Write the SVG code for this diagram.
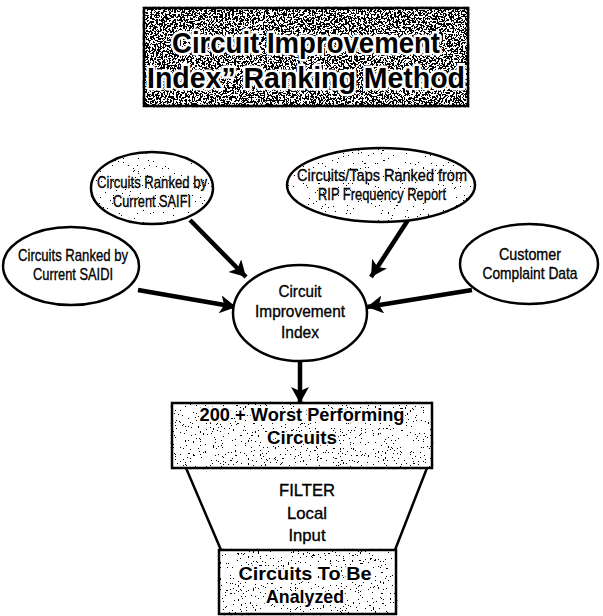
<svg xmlns="http://www.w3.org/2000/svg" width="603" height="616" viewBox="0 0 603 616">
  <defs>
    <style>
      .lbl { font-family: "Liberation Sans", Arial, sans-serif; font-size: 17px; fill: #000; stroke: #000; stroke-width: 0.35px; text-anchor: middle; }
      .bold { font-family: "Liberation Sans", Arial, sans-serif; font-weight: bold; fill: #000; text-anchor: middle; stroke: #fff; stroke-width: 4px; stroke-linejoin: round; paint-order: stroke; }
      .title { font-size: 29px; stroke-width: 5px; }
      .boxtxt { font-size: 19px; }
      .shape { fill: #fff; stroke: #000; stroke-width: 2.5; }
      .edge { stroke: #000; stroke-width: 4.5; fill: none; marker-end: url(#head); }
    </style>
    <!-- granite-like texture fills -->
    <filter id="speckle-dark">
      <feTurbulence type="fractalNoise" baseFrequency="0.55" numOctaves="3" seed="4" result="noise"/>
      <feColorMatrix in="noise" type="matrix" values="0 0 0 0 0  0 0 0 0 0  0 0 0 0 0  1 0 0 0 0" result="a"/>
      <feComponentTransfer in="a" result="dots"><feFuncA type="discrete" tableValues="0 0 0 0 0 1 1 1 1 1"/></feComponentTransfer>
      <feComposite in="dots" in2="SourceAlpha" operator="in" result="clipped"/>
      <feMerge><feMergeNode in="SourceGraphic"/><feMergeNode in="clipped"/></feMerge>
    </filter>
    <filter id="speckle-mid">
      <feTurbulence type="fractalNoise" baseFrequency="0.6" numOctaves="3" seed="9" result="noise"/>
      <feColorMatrix in="noise" type="matrix" values="0 0 0 0 0  0 0 0 0 0  0 0 0 0 0  1 0 0 0 0" result="a"/>
      <feComponentTransfer in="a" result="dots"><feFuncA type="discrete" tableValues="0 0 0 0 0 0 0 0 0 0 0 0 0 0 1 1 1 1 1 1"/></feComponentTransfer>
      <feComposite in="dots" in2="SourceAlpha" operator="in" result="clipped"/>
      <feMerge><feMergeNode in="SourceGraphic"/><feMergeNode in="clipped"/></feMerge>
    </filter>
    <filter id="speckle-light">
      <feTurbulence type="fractalNoise" baseFrequency="0.6" numOctaves="3" seed="2" result="noise"/>
      <feColorMatrix in="noise" type="matrix" values="0 0 0 0 0  0 0 0 0 0  0 0 0 0 0  1 0 0 0 0" result="a"/>
      <feComponentTransfer in="a" result="dots"><feFuncA type="discrete" tableValues="0 0 0 0 0 0 0 0 0 0 0 0 0 0 0 1 1 1 1 1"/></feComponentTransfer>
      <feComposite in="dots" in2="SourceAlpha" operator="in" result="clipped"/>
      <feMerge><feMergeNode in="SourceGraphic"/><feMergeNode in="clipped"/></feMerge>
    </filter>
    <marker id="head" markerUnits="userSpaceOnUse" markerWidth="20" markerHeight="20" refX="16" refY="9" orient="auto">
      <path d="M0,0 L16,9 L0,18 L4,9 Z" fill="#000"/>
    </marker>
  </defs>

  <!-- title -->
  <g id="title">
    <rect x="144" y="8" width="324" height="98" class="shape" filter="url(#speckle-dark)"/>
    <text x="306" y="53" class="bold title" textLength="268" lengthAdjust="spacingAndGlyphs">Circuit Improvement</text>
    <text x="306" y="88" class="bold title" textLength="318" lengthAdjust="spacingAndGlyphs">Index” Ranking Method</text>
  </g>

  <!-- connectors -->
  <g id="connectors">
    <line x1="190" y1="220" x2="246" y2="277" class="edge"/>
    <line x1="408" y1="220" x2="371" y2="277" class="edge"/>
    <line x1="138" y1="290" x2="236" y2="307" class="edge"/>
    <line x1="472" y1="290" x2="367" y2="307" class="edge"/>
    <line x1="300" y1="360" x2="300" y2="403" class="edge"/>
  </g>

  <g id="saifi">
    <ellipse cx="152" cy="188" rx="61" ry="36" class="shape" filter="url(#speckle-light)"/>
    <text x="152" y="188" class="lbl" textLength="110" lengthAdjust="spacingAndGlyphs">Circuits Ranked by</text>
    <text x="152" y="207" class="lbl" textLength="78" lengthAdjust="spacingAndGlyphs">Current SAIFI</text>
  </g>

  <g id="rip">
    <ellipse cx="381" cy="185" rx="94" ry="37" class="shape" filter="url(#speckle-light)"/>
    <text x="382" y="181" class="lbl" textLength="170" lengthAdjust="spacingAndGlyphs">Circuits/Taps Ranked from</text>
    <text x="382" y="200" class="lbl" textLength="128" lengthAdjust="spacingAndGlyphs">RIP Frequency Report</text>
  </g>

  <g id="saidi">
    <ellipse cx="71" cy="266" rx="68" ry="39" class="shape"/>
    <text x="73" y="261" class="lbl" textLength="110" lengthAdjust="spacingAndGlyphs">Circuits Ranked by</text>
    <text x="73" y="280" class="lbl" textLength="80" lengthAdjust="spacingAndGlyphs">Current SAIDI</text>
  </g>

  <g id="customer">
    <ellipse cx="529" cy="264" rx="69" ry="40" class="shape"/>
    <text x="530" y="260" class="lbl" textLength="62" lengthAdjust="spacingAndGlyphs">Customer</text>
    <text x="530" y="279" class="lbl" textLength="95" lengthAdjust="spacingAndGlyphs">Complaint Data</text>
  </g>

  <g id="cii">
    <ellipse cx="300" cy="313" rx="67" ry="48" class="shape"/>
    <text x="300" y="297" class="lbl" textLength="43" lengthAdjust="spacingAndGlyphs">Circuit</text>
    <text x="300" y="317" class="lbl" textLength="90" lengthAdjust="spacingAndGlyphs">Improvement</text>
    <text x="300" y="338" class="lbl" textLength="38" lengthAdjust="spacingAndGlyphs">Index</text>
  </g>

  <g id="worst">
    <rect x="172" y="403" width="260" height="65" class="shape" filter="url(#speckle-mid)"/>
    <text x="302" y="421" class="bold boxtxt" textLength="205" lengthAdjust="spacingAndGlyphs">200 + Worst Performing</text>
    <text x="302" y="444" class="bold boxtxt" textLength="70" lengthAdjust="spacingAndGlyphs">Circuits</text>
  </g>

  <g id="filter">
    <path d="M186,468 L221,550 M427,468 L395,550" stroke="#000" stroke-width="2.5" fill="none"/>
    <text x="307" y="496" class="lbl" textLength="56" lengthAdjust="spacingAndGlyphs">FILTER</text>
    <text x="307" y="519" class="lbl" textLength="40" lengthAdjust="spacingAndGlyphs">Local</text>
    <text x="307" y="541" class="lbl" textLength="37" lengthAdjust="spacingAndGlyphs">Input</text>
  </g>

  <g id="analyzed">
    <rect x="219" y="550" width="177" height="64" class="shape" filter="url(#speckle-mid)"/>
    <text x="305" y="580" class="bold boxtxt" textLength="133" lengthAdjust="spacingAndGlyphs">Circuits To Be</text>
    <text x="305" y="603" class="bold boxtxt" textLength="78" lengthAdjust="spacingAndGlyphs">Analyzed</text>
  </g>
</svg>
